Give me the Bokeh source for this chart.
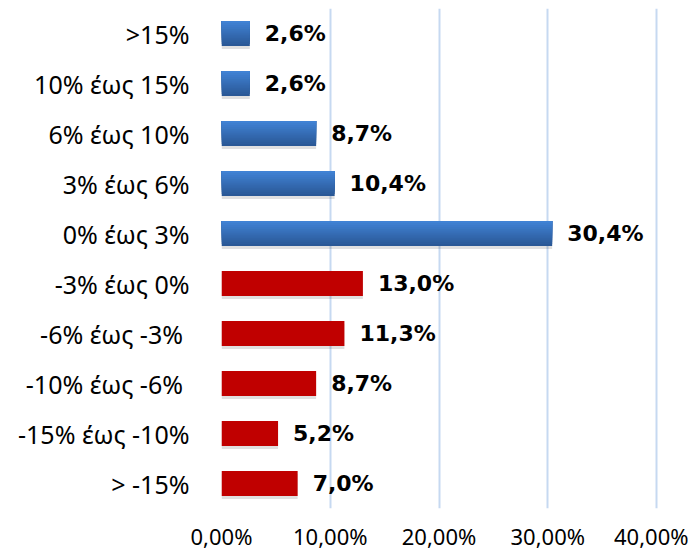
from bokeh.plotting import figure
from bokeh.models import FactorRange, FixedTicker, CustomJSTickFormatter, ColumnDataSource
from bokeh.transform import dodge
from bokeh.core.properties import value
from bokeh.embed import file_html
from bokeh.resources import INLINE

categories = [">15%", "10% έως 15%", "6% έως 10%", "3% έως 6%", "0% έως 3%",
              "-3% έως 0%", "-6% έως -3% ", "-10%  έως -6%", "-15% έως -10%", "> -15%"]
values = [2.6, 2.6, 8.7, 10.4, 30.4, 13.0, 11.3, 8.7, 5.2, 7.0]
positive = [True, True, True, True, True, False, False, False, False, False]
x_ticks = [0, 10, 20, 30, 40]

labels = [f"{v:.1f}%".replace(".", ",") for v in values]

p = figure(width=688, height=553, output_backend="svg", toolbar_location=None,
           y_range=FactorRange(factors=list(reversed(categories)), range_padding=0),
           x_range=(0, 42.2), min_border_left=221, min_border_right=8,
           min_border_top=8, min_border_bottom=40)
p.outline_line_color = None
p.background_fill_color = "white"

blue = dict(cat=[c for c, s in zip(categories, positive) if s],
            val=[v for v, s in zip(values, positive) if s])
red = dict(cat=[c for c, s in zip(categories, positive) if not s],
           val=[v for v, s in zip(values, positive) if not s])
src_all = ColumnDataSource(dict(cat=categories, val=values, lab=labels))
src_b = ColumnDataSource(blue)
src_r = ColumnDataSource(red)

# shadows
p.hbar(y=dodge("cat", -0.06, range=p.y_range), left=0, right="val", height=0.5,
       source=src_all, fill_color="black", fill_alpha=0.12, line_color=None)

# blue gradient bars: nested bars anchored at the top edge, darkest (largest) first
top_c = (0x40, 0x82, 0xd4)
bot_c = (0x2a, 0x58, 0x96)
n = 12
for i in reversed(range(n)):
    t = i / (n - 1)
    c = tuple(int(round(a + (b - a) * t)) for a, b in zip(top_c, bot_c))
    col = "#%02x%02x%02x" % c
    hh = 0.5 * (i + 1) / n
    off = 0.25 - hh / 2
    p.hbar(y=dodge("cat", off, range=p.y_range), left=0, right="val", height=hh,
           source=src_b, fill_color=col, line_color=None)

p.hbar(y="cat", left=0, right="val", height=0.5, source=src_r,
       fill_color="#c00000", line_color=None)

p.text(x="val", y="cat", text="lab", source=src_all, x_offset=15,
       text_font=value("DejaVu Sans"), text_font_style="bold", text_font_size="22px",
       text_baseline="middle", text_align="left", text_color="black")

p.xgrid.grid_line_color = "#c6d9f1"
p.xgrid.grid_line_width = 2
p.ygrid.grid_line_color = None
p.xaxis.ticker = FixedTicker(ticks=x_ticks)
p.xaxis.formatter = CustomJSTickFormatter(code="return tick.toFixed(2).replace('.', ',') + '%';")
p.xaxis.axis_line_color = None
p.xaxis.major_tick_line_color = None
p.xaxis.minor_tick_line_color = None
p.xaxis.major_tick_out = 0
p.xaxis.major_tick_in = 0
p.xaxis.major_label_text_font = "Noto Sans"
p.xaxis.major_label_text_font_size = "22px"
p.xaxis.major_label_standoff = 12
p.xaxis.major_label_text_color = "black"

p.yaxis.axis_line_color = None
p.yaxis.major_tick_line_color = None
p.yaxis.major_tick_out = 0
p.yaxis.major_tick_in = 0
p.yaxis.major_label_text_font = "Noto Sans"
p.yaxis.major_label_text_font_size = "25px"
p.yaxis.major_label_standoff = 32
p.yaxis.major_label_text_color = "black"

open("out.html", "w").write(file_html(p, INLINE))
